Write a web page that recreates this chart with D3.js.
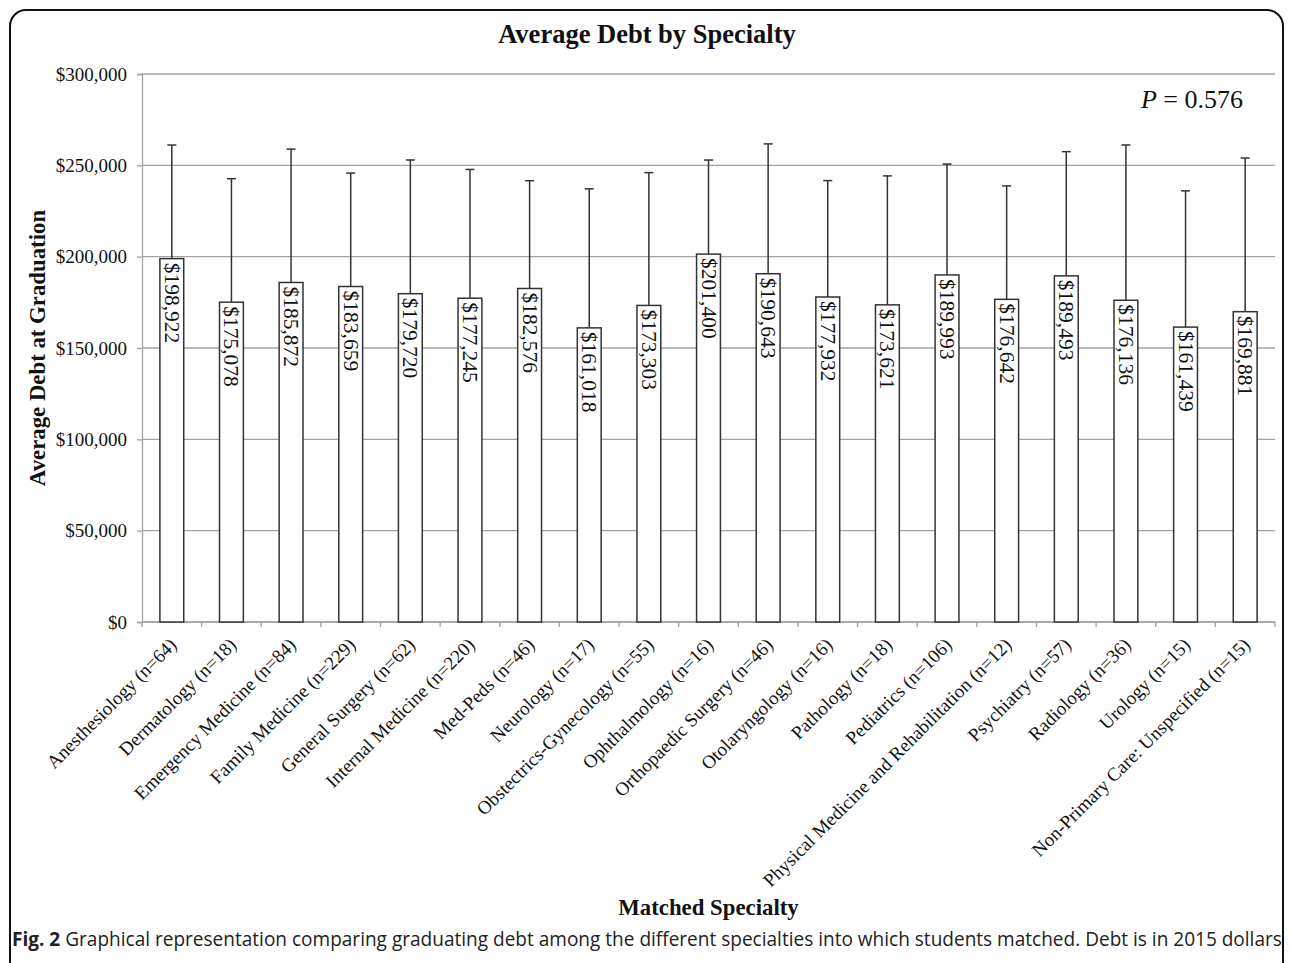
<!DOCTYPE html>
<html>
<head>
<meta charset="utf-8">
<script src="https://cdn.jsdelivr.net/npm/d3@7"></script>
<style>
  html, body { margin: 0; padding: 0; background: #fff; }
  svg { display: block; }
  .serif { font-family: "Liberation Serif", "Times New Roman", serif; fill: #111; }
</style>
</head>
<body>
<svg id="chart" width="1292" height="963"></svg>
<script>
// Matched specialties with group sizes
const specialties = [
  "Anesthesiology (n=64)", "Dermatology (n=18)", "Emergency Medicine (n=84)",
  "Family Medicine (n=229)", "General Surgery (n=62)", "Internal Medicine (n=220)",
  "Med-Peds (n=46)", "Neurology (n=17)", "Obstectrics-Gynecology (n=55)",
  "Ophthalmology (n=16)", "Orthopaedic Surgery (n=46)", "Otolaryngology (n=16)",
  "Pathology (n=18)", "Pediatrics (n=106)", "Physical Medicine and Rehabilitation (n=12)",
  "Psychiatry (n=57)", "Radiology (n=36)", "Urology (n=15)",
  "Non-Primary Care: Unspecified (n=15)"
];
// Mean debt at graduation (2015 dollars)
const meanDebt = [
  198922, 175078, 185872, 183659, 179720, 177245, 182576, 161018, 173303,
  201400, 190643, 177932, 173621, 189993, 176642, 189493, 176136, 161439, 169881
];
// Standard deviation shown as upper error bar
const sdDebt = [
  62200, 67600, 73000, 62100, 73200, 70500, 59000, 76100, 72700,
  51500, 71100, 63700, 70600, 60700, 62100, 68000, 85000, 74600, 84100
];
const yTicks = [0, 50000, 100000, 150000, 200000, 250000, 300000];
const pValue = "0.576";

const svg = d3.select("#chart");
const margin = { left: 142, right: 1275, top: 74, bottom: 622 };

// Outer rounded frame
svg.append("rect")
  .attr("x", 10).attr("y", 10)
  .attr("width", 1273).attr("height", 990)
  .attr("rx", 16).attr("ry", 16)
  .attr("fill", "none").attr("stroke", "#111").attr("stroke-width", 2);

const x = d3.scaleBand()
  .domain(specialties)
  .range([margin.left, margin.right])
  .paddingInner(0.6).paddingOuter(0.3);
const xOuter = d3.scaleBand().domain(specialties).range([margin.left, margin.right]);

const y = d3.scaleLinear().domain([0, 300000]).range([margin.bottom, margin.top]);

// Horizontal gridlines
svg.append("g").selectAll("line")
  .data(yTicks)
  .join("line")
  .attr("x1", margin.left).attr("x2", margin.right)
  .attr("y1", d => y(d)).attr("y2", d => y(d))
  .attr("stroke", "#a3a3a3").attr("stroke-width", 1.3);

// Y axis
const yAxis = svg.append("g")
  .attr("transform", `translate(${margin.left},0)`)
  .call(d3.axisLeft(y).tickValues(yTicks).tickSize(5).tickPadding(10)
    .tickFormat(d => "$" + d3.format(",")(d)));
yAxis.select(".domain").attr("stroke", "#a3a3a3").attr("stroke-width", 1.3);
yAxis.selectAll(".tick line").attr("stroke", "#a3a3a3").attr("stroke-width", 1.3);
yAxis.selectAll(".tick text")
  .attr("class", "serif")
  .style("font-size", "19px").attr("fill", "#111");

// X axis baseline with category boundary ticks
const boundaries = specialties.map(s => xOuter(s)).concat([margin.right]);
svg.append("line")
  .attr("x1", margin.left).attr("x2", margin.right)
  .attr("y1", y(0)).attr("y2", y(0))
  .attr("stroke", "#a3a3a3").attr("stroke-width", 1.3);
svg.append("g").selectAll("line")
  .data(boundaries)
  .join("line")
  .attr("x1", d => d).attr("x2", d => d)
  .attr("y1", y(0)).attr("y2", y(0) + 5)
  .attr("stroke", "#a3a3a3").attr("stroke-width", 1.3);

const data = specialties.map((s, i) => ({ name: s, mean: meanDebt[i], sd: sdDebt[i] }));

// Error bars (upper half)
const eb = svg.append("g");
eb.selectAll("line.stem")
  .data(data).join("line")
  .attr("class", "stem")
  .attr("x1", d => x(d.name) + x.bandwidth() / 2)
  .attr("x2", d => x(d.name) + x.bandwidth() / 2)
  .attr("y1", d => y(d.mean)).attr("y2", d => y(d.mean + d.sd))
  .attr("stroke", "#333").attr("stroke-width", 1.5);
eb.selectAll("line.cap")
  .data(data).join("line")
  .attr("class", "cap")
  .attr("x1", d => x(d.name) + x.bandwidth() / 2 - 4.5)
  .attr("x2", d => x(d.name) + x.bandwidth() / 2 + 4.5)
  .attr("y1", d => y(d.mean + d.sd)).attr("y2", d => y(d.mean + d.sd))
  .attr("stroke", "#333").attr("stroke-width", 1.5);

// Bars
svg.append("g").selectAll("rect")
  .data(data).join("rect")
  .attr("x", d => x(d.name))
  .attr("y", d => y(d.mean))
  .attr("width", x.bandwidth())
  .attr("height", d => y(0) - y(d.mean))
  .attr("fill", "#fff").attr("stroke", "#333").attr("stroke-width", 1.5);

// Value labels inside bars, reading downward
svg.append("g").selectAll("text")
  .data(data).join("text")
  .attr("class", "serif")
  .attr("transform", d => `translate(${x(d.name) + x.bandwidth() / 2},${y(d.mean) + 4}) rotate(90)`)
  .attr("dominant-baseline", "central")
  .style("font-size", "21.5px")
  .text(d => "$" + d3.format(",")(d.mean));

// Category labels, rotated
svg.append("g").selectAll("text")
  .data(specialties).join("text")
  .attr("class", "serif")
  .attr("text-anchor", "end")
  .attr("transform", d => `translate(${xOuter(d) + xOuter.bandwidth() / 2 + 6},${y(0) + 24}) rotate(-45)`)
  .style("font-size", "19px")
  .text(d => d);

// Titles
svg.append("text").attr("class", "serif")
  .attr("x", 647).attr("y", 43).attr("text-anchor", "middle")
  .style("font-size", "26.5px").style("font-weight", "bold")
  .text("Average Debt by Specialty");

svg.append("text").attr("class", "serif")
  .attr("transform", "translate(45,348) rotate(-90)")
  .attr("text-anchor", "middle")
  .style("font-size", "22.8px").style("font-weight", "bold")
  .text("Average Debt at Graduation");

svg.append("text").attr("class", "serif")
  .attr("x", (margin.left + margin.right) / 2).attr("y", 915).attr("text-anchor", "middle")
  .style("font-size", "22.8px").style("font-weight", "bold")
  .text("Matched Specialty");

// P value annotation
const pText = svg.append("text").attr("class", "serif")
  .attr("x", 1243).attr("y", 108).attr("text-anchor", "end")
  .style("font-size", "26px");
pText.append("tspan").style("font-style", "italic").text("P");
pText.append("tspan").text(" = " + pValue);

// Figure caption
const cap = svg.append("text")
  .attr("x", 12).attr("y", 946)
  .style("font-family", "'Open Sans', 'Noto Sans', sans-serif")
  .style("font-size", "17px").attr("fill", "#222");
cap.append("tspan").style("font-weight", "bold").text("Fig. 2");
cap.append("tspan").text(" Graphical representation comparing graduating debt among the different specialties into which students matched. Debt is in 2015 dollars");
const capLen = cap.node().getComputedTextLength();
const target = 1271;
if (capLen > 0) cap.style("font-size", (17 * target / capLen).toFixed(2) + "px");
</script>
</body>
</html>
